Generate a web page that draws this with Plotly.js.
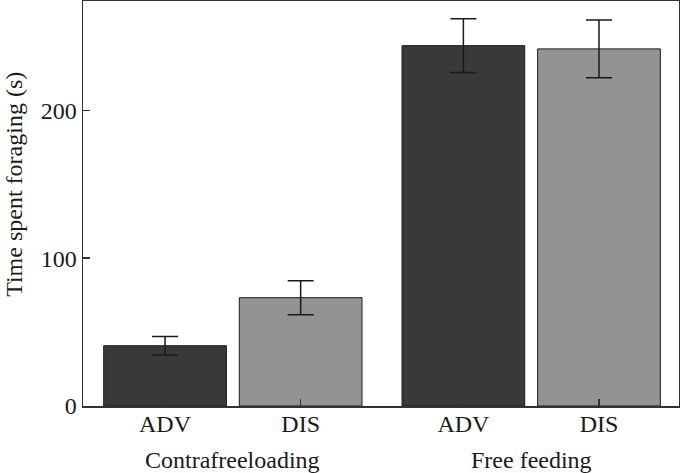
<!DOCTYPE html>
<html>
<head>
<meta charset="utf-8">
<script src="https://cdn.plot.ly/plotly-3.0.1.min.js"></script>
<style>
  html, body { margin: 0; padding: 0; background: #fff; }
  #chart { width: 680px; height: 473px; }
</style>
</head>
<body>
<div id="chart"></div>
<script>
// values
var groupNames = ['Contrafreeloading', 'Free feeding'];
var conditions = ['ADV', 'DIS'];
var advMeans = [40.8, 243.8];
var advErr = [6.3, 18.2];
var disMeans = [73.3, 241.6];
var disErr = [11.5, 19.5];
var yTicks = [0, 100, 200];
var yTitle = 'Time spent foraging (s)';

var groupStep = 2.2; // distance between the two groups on the x axis

function xPos(g, c) {
    return g * groupStep + c;
}

var advX = groupNames.map(function (n, g) { return xPos(g, 0); });
var disX = groupNames.map(function (n, g) { return xPos(g, 1); });

var serif = 'Liberation Serif, Times New Roman, serif';
var fontSize = 24;

var errStyle = { type: 'data', visible: true, thickness: 1.5, width: 13, color: '#1a1a1a' };

trace1 = {
    type: 'bar',
    x: advX,
    y: advMeans,
    name: conditions[0],
    width: 0.905,
    marker: { color: '#393939', line: { color: '#1e1e1e', width: 1 } },
    error_y: Object.assign({ array: advErr }, errStyle)
};

trace2 = {
    type: 'bar',
    x: disX,
    y: disMeans,
    name: conditions[1],
    width: 0.905,
    marker: { color: '#939393', line: { color: '#1e1e1e', width: 1 } },
    error_y: Object.assign({ array: disErr }, errStyle)
};

var tickVals = [], tickText = [];
groupNames.forEach(function (n, g) {
    conditions.forEach(function (c, i) {
        tickVals.push(xPos(g, i));
        tickText.push(c);
    });
});

var notes = groupNames.map(function (n, g) {
    return {
        text: n,
        x: xPos(g, 0.5),
        xref: 'x',
        y: 0,
        yref: 'paper',
        yanchor: 'middle',
        yshift: -54,
        showarrow: false,
        font: { family: serif, size: fontSize, color: '#1a1a1a' }
    };
});

// y title as an annotation so it can sit where the original has it
notes.push({
    text: yTitle,
    textangle: -90,
    x: 0,
    xref: 'paper',
    xanchor: 'center',
    xshift: -69,
    y: 0.546,
    yref: 'paper',
    yanchor: 'middle',
    showarrow: false,
    font: { family: serif, size: fontSize, color: '#1a1a1a' }
});

var layout = {
    width: 680,
    height: 473,
    margin: { l: 83, r: 1, t: 1, b: 67 },
    paper_bgcolor: '#fff',
    plot_bgcolor: '#fff',
    showlegend: false,
    barmode: 'overlay',
    font: { family: serif, size: fontSize, color: '#1a1a1a' },
    xaxis: {
        range: [-0.605, 3.79],
        tickvals: tickVals,
        ticktext: tickText,
        ticks: 'inside',
        ticklen: 7,
        tickwidth: 1.5,
        tickcolor: '#333',
        ticklabelstandoff: -4,
        showgrid: false,
        zeroline: false,
        showline: true,
        linecolor: '#333',
        linewidth: 1.5,
        mirror: true,
        fixedrange: true
    },
    yaxis: {
        range: [0, 274],
        tickvals: yTicks,
        ticks: 'inside',
        ticklen: 7,
        tickwidth: 1.5,
        tickcolor: '#333',
        showgrid: false,
        zeroline: false,
        showline: true,
        linecolor: '#333',
        linewidth: 1.5,
        mirror: true,
        fixedrange: true
    },
    annotations: notes
};

Plotly.newPlot('chart', [trace1, trace2], layout, { displayModeBar: false, staticPlot: true });
</script>
</body>
</html>
